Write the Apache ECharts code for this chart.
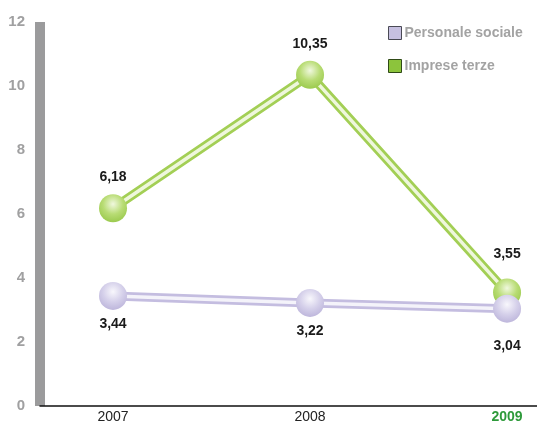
<!DOCTYPE html>
<html>
<head>
<meta charset="utf-8">
<script src="https://cdn.jsdelivr.net/npm/echarts@6/dist/echarts.min.js"></script>
<style>
  html, body { margin: 0; padding: 0; background: #fff; }
  #chart { width: 537px; height: 424px; }
</style>
</head>
<body>
<div id="chart"></div>
<script>
// Years on the horizontal axis
const years = ['2007', '2008', '2009'];
// Indices per year
const personaleSociale = [3.44, 3.22, 3.04];
const impreseTerze = [6.18, 10.35, 3.55];
// Vertical axis ticks
const yTicks = [0, 2, 4, 6, 8, 10, 12];

const FONT = '"Liberation Sans", Arial, sans-serif';
const fmt = v => String(v.toFixed(2)).replace('.', ',');
const pts = arr => arr.map((v, i) => [i, v]);

// Last year's labels are nudged apart where the two series meet
const labelled = (arr, lastOffset) => arr.map((v, i) =>
  i === arr.length - 1 ? { value: [i, v], label: { offset: lastOffset } } : { value: [i, v] });

function ball(light, mid, dark) {
  return {
    type: 'radial', x: 0.5, y: 0.35, r: 0.72,
    colorStops: [
      { offset: 0, color: light },
      { offset: 0.5, color: mid },
      { offset: 1, color: dark }
    ]
  };
}

const labelBase = { show: true, fontFamily: FONT, fontSize: 14, fontWeight: 'bold', color: '#1a1a1a', formatter: p => fmt(p.value[1]) };

const chart = echarts.init(document.getElementById('chart'));
chart.setOption({
  animation: false,
  grid: { left: 40, right: 0, top: 22, bottom: 18 },
  legend: {
    orient: 'vertical', left: 383, top: 21, itemGap: 19,
    itemWidth: 13, itemHeight: 13,
    textStyle: { fontFamily: FONT, fontSize: 14, fontWeight: 'bold', color: '#a3a3a3', padding: [0, 0, 0, -2] },
    data: [
      { name: 'Personale sociale', icon: 'rect', itemStyle: { color: '#c6c0e0', borderColor: '#4a4a55', borderWidth: 1 } },
      { name: 'Imprese terze', icon: 'rect', itemStyle: { color: '#8cc43c', borderColor: '#2f4a16', borderWidth: 1 } }
    ]
  },
  xAxis: {
    type: 'value', min: -0.3706, max: 2.152,
    splitLine: { show: false },
    axisLine: { show: true, lineStyle: { color: '#111', width: 1.5 } },
    axisTick: { show: false },
    axisLabel: {
      customValues: [0, 1, 2], margin: 4,
      fontFamily: FONT, fontSize: 14,
      formatter: v => v === 2 ? '{hl|' + years[v] + '}' : years[v],
      color: '#222',
      rich: { hl: { color: '#2e9a3a', fontWeight: 'bold', fontSize: 14, fontFamily: FONT } }
    }
  },
  yAxis: {
    type: 'value', min: 0, max: 12, interval: 2,
    splitLine: { show: false },
    axisTick: { show: false },
    axisLine: { show: true, onZero: false, lineStyle: { color: '#9b9b9c', width: 10, cap: 'butt' } },
    axisLabel: {
      margin: 15, fontFamily: FONT, fontSize: 15, fontWeight: 'bold', color: '#a0a0a1',
      customValues: yTicks
    }
  },
  series: [
    {
      name: 'Imprese terze', type: 'line', data: pts(impreseTerze),
      showSymbol: false, silent: true, z: 2,
      lineStyle: { color: '#a3cf55', width: 9 }
    },
    {
      name: 'Imprese terze', type: 'line', data: labelled(impreseTerze, [0, -7]), z: 3,
      symbol: 'circle', symbolSize: 28,
      lineStyle: { color: '#eef7dc', width: 3.5 },
      itemStyle: { color: ball('#f0f8de', '#b8dc74', '#95c646') },
      label: Object.assign({}, labelBase, { position: 'top', distance: 10 })
    },
    {
      name: 'Personale sociale', type: 'line', data: pts(personaleSociale),
      showSymbol: false, silent: true, z: 4,
      lineStyle: { color: '#c4bde0', width: 9 }
    },
    {
      name: 'Personale sociale', type: 'line', data: labelled(personaleSociale, [0, 9]), z: 5,
      symbol: 'circle', symbolSize: 28,
      lineStyle: { color: '#f4f3fa', width: 3.5 },
      itemStyle: { color: ball('#f8f7fc', '#d5d0ea', '#b8b0d8') },
      label: Object.assign({}, labelBase, { position: 'bottom', distance: 7 })
    }
  ]
});
</script>
</body>
</html>
